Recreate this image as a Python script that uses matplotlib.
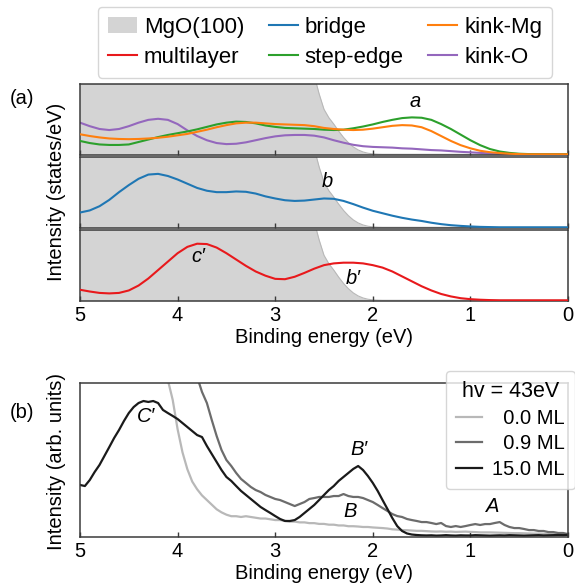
import numpy as np
import matplotlib
matplotlib.use("Agg")
import matplotlib.pyplot as plt
from matplotlib.patches import Patch
from matplotlib.lines import Line2D

plt.rcParams['font.family'] = ['Liberation Sans', 'DejaVu Sans']
plt.rcParams['font.size'] = 14.5

# ---------------- Panel (a) data: DOS (normalised to panel height) ----------------
energy_a = np.linspace(5.0, 0.0, 51)

kink_O = [0.45, 0.40, 0.36, 0.345, 0.36, 0.40, 0.45, 0.49, 0.505, 0.49,
          0.43, 0.34, 0.26, 0.20, 0.16, 0.145, 0.15, 0.17, 0.20, 0.23,
          0.255, 0.27, 0.275, 0.275, 0.265, 0.24, 0.20, 0.165, 0.135, 0.115,
          0.105, 0.10, 0.095, 0.085, 0.08, 0.07, 0.06, 0.055, 0.045, 0.035,
          0.028, 0.02, 0.013, 0.008, 0.004, 0.002, 0.0, 0.0, 0.0, 0.0, 0.0]

step_edge = [0.19, 0.16, 0.14, 0.133, 0.133, 0.14, 0.175, 0.21, 0.245, 0.275,
             0.30, 0.325, 0.355, 0.39, 0.425, 0.45, 0.465, 0.46, 0.44, 0.41,
             0.39, 0.375, 0.37, 0.365, 0.36, 0.35, 0.345, 0.35, 0.37, 0.395,
             0.425, 0.46, 0.49, 0.515, 0.525, 0.52, 0.49, 0.43, 0.36, 0.28,
             0.20, 0.13, 0.075, 0.04, 0.02, 0.008, 0.003, 0.0, 0.0, 0.0, 0.0]

kink_Mg = [0.285, 0.26, 0.24, 0.225, 0.218, 0.215, 0.218, 0.225, 0.235, 0.25,
           0.27, 0.29, 0.32, 0.35, 0.385, 0.415, 0.44, 0.45, 0.45, 0.44,
           0.43, 0.425, 0.42, 0.415, 0.40, 0.375, 0.36, 0.35, 0.345, 0.35,
           0.365, 0.385, 0.405, 0.415, 0.41, 0.385, 0.33, 0.26, 0.19, 0.13,
           0.085, 0.05, 0.03, 0.018, 0.008, 0.003, 0.0, 0.0, 0.0, 0.0, 0.0]

bridge = [0.21, 0.24, 0.30, 0.39, 0.50, 0.60, 0.69, 0.75, 0.76, 0.73,
          0.68, 0.62, 0.56, 0.52, 0.50, 0.50, 0.51, 0.505, 0.48, 0.44,
          0.41, 0.385, 0.375, 0.38, 0.395, 0.41, 0.405, 0.375, 0.33, 0.28,
          0.235, 0.20, 0.165, 0.135, 0.11, 0.09, 0.065, 0.045, 0.03, 0.02,
          0.012, 0.006, 0.003, 0.0, 0.0, 0.0, 0.0, 0.0, 0.0, 0.0, 0.0]

multilayer = [0.15, 0.125, 0.105, 0.098, 0.105, 0.14, 0.21, 0.31, 0.43, 0.55,
              0.67, 0.76, 0.805, 0.80, 0.75, 0.67, 0.58, 0.49, 0.41, 0.35,
              0.305, 0.30, 0.335, 0.39, 0.45, 0.50, 0.525, 0.535, 0.535, 0.525,
              0.50, 0.465, 0.41, 0.34, 0.27, 0.20, 0.14, 0.09, 0.055, 0.03,
              0.016, 0.008, 0.003, 0.0, 0.0, 0.0, 0.0, 0.0, 0.0, 0.0, 0.0]

mgo_energy = [5.0, 2.70, 2.65, 2.60, 2.55, 2.50, 2.45, 2.40, 2.35, 2.30, 2.25,
              2.20, 2.15, 2.10, 2.05, 2.00, 1.95, 1.90, 0.0]
mgo_dos = [2.0, 2.0, 1.5, 1.12, 0.86, 0.64, 0.52, 0.43, 0.33, 0.24, 0.165,
           0.105, 0.062, 0.033, 0.015, 0.006, 0.002, 0.0, 0.0]

# ---------------- Panel (b) data: photoemission spectra ----------------
energy_15 = np.linspace(5.0, 0.0, 101)
ml_15 = [0.338, 0.331, 0.370, 0.422, 0.468, 0.526, 0.584, 0.643, 0.695, 0.753,
         0.805, 0.844, 0.870, 0.883, 0.877, 0.883, 0.870, 0.825, 0.805, 0.786,
         0.766, 0.740, 0.714, 0.688, 0.662, 0.649, 0.591, 0.539, 0.487, 0.435,
         0.390, 0.364, 0.331, 0.299, 0.273, 0.247, 0.221, 0.195, 0.175, 0.156,
         0.136, 0.117, 0.104, 0.104, 0.110, 0.130, 0.156, 0.182, 0.208, 0.240,
         0.273, 0.305, 0.331, 0.364, 0.390, 0.416, 0.442, 0.461, 0.435, 0.396,
         0.351, 0.299, 0.240, 0.182, 0.123, 0.071, 0.039, 0.023, 0.016, 0.013,
         0.011, 0.010, 0.011, 0.009, 0.010, 0.012, 0.010, 0.009, 0.011, 0.010,
         0.010, 0.012, 0.011, 0.010, 0.009, 0.010, 0.011, 0.010, 0.012, 0.011,
         0.010, 0.009, 0.010, 0.011, 0.012, 0.010, 0.011, 0.012, 0.013, 0.012,
         0.014]

energy_09 = np.linspace(3.95, 0.0, 80)
ml_09 = [1.60, 1.35, 1.17, 1.04, 0.942, 0.870, 0.760, 0.656, 0.565, 0.500,
         0.461, 0.416, 0.377, 0.351, 0.325, 0.305, 0.292, 0.273, 0.260, 0.247,
         0.240, 0.227, 0.214, 0.201, 0.214, 0.227, 0.247, 0.253, 0.260, 0.260,
         0.260, 0.266, 0.266, 0.279, 0.266, 0.260, 0.260, 0.253, 0.240, 0.227,
         0.208, 0.188, 0.169, 0.149, 0.136, 0.130, 0.117, 0.110, 0.104, 0.097,
         0.097, 0.091, 0.084, 0.091, 0.071, 0.065, 0.071, 0.065, 0.071, 0.078,
         0.084, 0.078, 0.084, 0.084, 0.091, 0.097, 0.078, 0.065, 0.058, 0.058,
         0.052, 0.045, 0.045, 0.039, 0.039, 0.032, 0.032, 0.026, 0.026, 0.019]

energy_00 = np.linspace(4.20, 0.0, 85)
ml_00 = [1.50, 1.20, 1.02, 0.89, 0.70, 0.55, 0.44, 0.36, 0.31, 0.27,
         0.24, 0.21, 0.18, 0.16, 0.145, 0.135, 0.135, 0.13, 0.135, 0.13,
         0.125, 0.12, 0.12, 0.115, 0.11, 0.11, 0.105, 0.10, 0.10, 0.095,
         0.095, 0.09, 0.09, 0.085, 0.085, 0.08, 0.08, 0.075, 0.075, 0.07,
         0.07, 0.068, 0.065, 0.065, 0.062, 0.06, 0.058, 0.055, 0.05, 0.048,
         0.045, 0.044, 0.042, 0.04, 0.04, 0.038, 0.036, 0.035, 0.036, 0.034,
         0.035, 0.033, 0.034, 0.035, 0.033, 0.032, 0.03, 0.03, 0.03, 0.029,
         0.028, 0.027, 0.026, 0.025, 0.025, 0.024, 0.023, 0.022, 0.022, 0.021,
         0.02, 0.02, 0.019, 0.019, 0.018]

xticks = [5, 4, 3, 2, 1, 0]

# ---------------- Figure ----------------
W, H = 575, 587
fig = plt.figure(figsize=(W / 100, H / 100), dpi=100)

def fx(px):
    return px / W

def fy(py):
    return 1 - py / H

left, width = fx(80), (568 - 80) / W
ph = 71 / H
ax1 = fig.add_axes([left, fy(155), width, ph])
ax2 = fig.add_axes([left, fy(228), width, ph])
ax3 = fig.add_axes([left, fy(301), width, ph])
axb = fig.add_axes([left, fy(537), width, (537 - 383) / H])

spine_col = '#3a3a3a'
mgo_face = '#d4d4d4'
mgo_edge = '#b8b8b8'

c_blue, c_orange, c_green, c_purple, c_red = '#1f77b4', '#ff7f0e', '#2ca02c', '#9467bd', '#e8191c'
lw = 1.5

for ax in (ax1, ax2, ax3):
    ax.fill_between(mgo_energy, 0, mgo_dos, color=mgo_face, lw=0, zorder=0)
    ax.plot(mgo_energy, mgo_dos, color=mgo_edge, lw=0.8, zorder=0.5)
    ax.set_xlim(5, 0)
    ax.set_ylim(-0.01, 1.0)
    ax.set_yticks([])
    ax.set_xticks(xticks)
    ax.tick_params(axis='x', direction='in', length=3.5, width=1, color=spine_col,
                   labelsize=14.5)
    for s in ax.spines.values():
        s.set_color(spine_col)
        s.set_linewidth(1.1)

ax1.plot(energy_a, kink_O, color=c_purple, lw=lw, zorder=2)
ax1.plot(energy_a, step_edge, color=c_green, lw=lw, zorder=3)
ax1.plot(energy_a, kink_Mg, color=c_orange, lw=lw, zorder=4)
ax2.plot(energy_a, bridge, color=c_blue, lw=lw, zorder=3)
ax3.plot(energy_a, multilayer, color=c_red, lw=lw, zorder=3)

ax1.tick_params(labelbottom=False)
ax2.tick_params(labelbottom=False)
ax3.set_xlabel('Binding energy (eV)', fontsize=14.5, labelpad=2)

it = dict(fontsize=14.5, style='italic', ha='center', va='center')
ax1.text(1.57, 0.75, 'a', **it)
ax2.text(2.47, 0.65, 'b', **it)
ax3.text(3.79, 0.62, 'c\u2032', **it)
ax3.text(2.20, 0.31, 'b\u2032', **it)

# legend for panel (a)
handles = [Patch(facecolor=mgo_face, edgecolor='none', label='MgO(100)'),
           Line2D([], [], color=c_red, lw=lw, label='multilayer'),
           Line2D([], [], color=c_blue, lw=lw, label='bridge'),
           Line2D([], [], color=c_green, lw=lw, label='step-edge'),
           Line2D([], [], color=c_orange, lw=lw, label='kink-Mg'),
           Line2D([], [], color=c_purple, lw=lw, label='kink-O')]
fig.legend(handles=handles, ncol=3, loc='upper center',
           bbox_to_anchor=(fx(325), fy(7)), bbox_transform=fig.transFigure,
           borderaxespad=0, fontsize=16, handlelength=1.3, handletextpad=0.32,
           columnspacing=1.1, labelspacing=0.4, borderpad=0.45, frameon=True)

fig.text(fx(57), fy(192), 'Intensity (states/eV)', rotation=90,
         ha='center', va='center', fontsize=14.5)
fig.text(fx(22), fy(98), '(a)', ha='center', va='center', fontsize=14.5)

# ---------------- Panel (b) ----------------
c00, c09, c15 = '#b8b8b8', '#6c6c6c', '#1a1a1a'
axb.plot(energy_00, ml_00, color=c00, lw=1.6, label='  0.0 ML')
axb.plot(energy_09, ml_09, color=c09, lw=1.6, label='  0.9 ML')
axb.plot(energy_15, ml_15, color=c15, lw=1.6, label='15.0 ML')
axb.set_xlim(5, 0)
axb.set_ylim(0, 1.0)
axb.set_yticks([])
axb.set_xticks(xticks)
axb.tick_params(axis='x', direction='in', length=3.5, width=1, color=spine_col,
                labelsize=14.5)
for s in axb.spines.values():
    s.set_color(spine_col)
    s.set_linewidth(1.1)
axb.set_xlabel('Binding energy (eV)', fontsize=14.5, labelpad=2)

axb.text(4.32, 0.78, 'C\u2032', **it)
axb.text(2.14, 0.57, 'B\u2032', **it)
axb.text(2.23, 0.165, 'B', **it)
axb.text(0.77, 0.195, 'A', **it)

fig.legend(*axb.get_legend_handles_labels(), loc='upper right',
           bbox_to_anchor=(fx(575), fy(371)), bbox_transform=fig.transFigure,
           borderaxespad=0, title='hv = 43eV', title_fontsize=15.5,
           fontsize=14.5, handlelength=1.3, handletextpad=0.5,
           labelspacing=0.33, borderpad=0.5, frameon=True)

fig.text(fx(57), fy(461), 'Intensity (arb. units)', rotation=90,
         ha='center', va='center', fontsize=14.5)
fig.text(fx(22), fy(412), '(b)', ha='center', va='center', fontsize=14.5)

fig.savefig('out.png', dpi=100)
